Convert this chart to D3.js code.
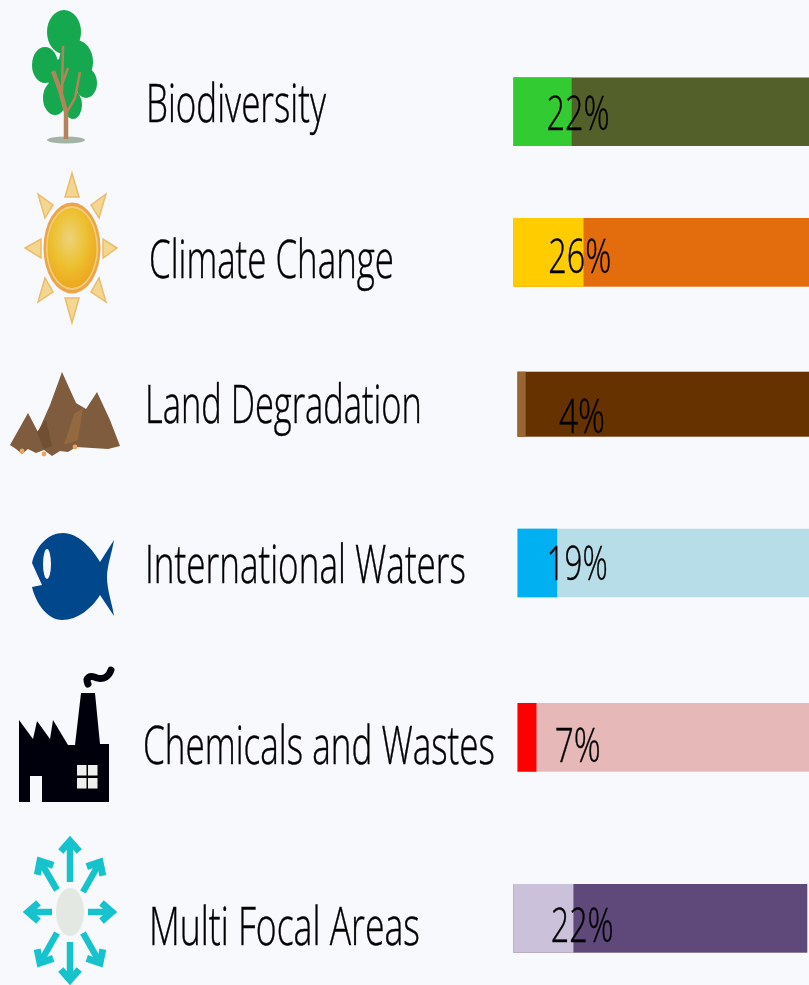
<!DOCTYPE html>
<html>
<head>
<meta charset="utf-8">
<title>Focal areas</title>
<script src="https://cdnjs.cloudflare.com/ajax/libs/d3/7.8.5/d3.min.js"></script>
<style>
  html, body { margin: 0; padding: 0; background: #f8f9fd; overflow: hidden; }
  svg { display: block; }
  text { font-family: "Open Sans", sans-serif; font-weight: 300; fill: #000; stroke: #000; stroke-width: 0.45; }
</style>
</head>
<body>
<svg id="chart" width="809" height="985"></svg>
<script>
// values
var categories = ['Biodiversity', 'Climate Change', 'Land Degradation', 'International Waters', 'Chemicals and Wastes', 'Multi Focal Areas'];
var percent_labels = ['22%', '26%', '4%', '19%', '7%', '22%'];
// drawn length of the coloured part, as a share of its track (not the same as the printed label)
var filled = [19.7, 23.7, 2.8, 13.6, 6.5, 20.4];

var fill_colors = ['#33cc33', '#ffcc00', '#996633', '#00b0f0', '#ff0000', '#ccc1da'];
var track_colors = ['#536029', '#e36c09', '#663300', '#b7dde8', '#e6b8b7', '#5f497a'];

// layout, rows are not evenly spaced in the original
var bar_left = [513.5, 513.5, 517.5, 517.5, 517.5, 513.5];
var bar_right = [809, 809, 809, 809, 809, 807.3];
var bar_top = [77.5, 218, 371.7, 528.7, 703, 884];
var bar_bottom = [146, 286.7, 436.7, 597.3, 771.7, 952.7];
var name_x = [146, 149, 145, 145, 143, 149];
var name_w = [180, 245, 277, 321, 352, 271];
var name_y = [122, 278, 422.7, 582.7, 764.3, 945];
var pct_x = [546.5, 548.3, 559, 546.7, 554.7, 550.7];
var pct_w = [63, 63, 46, 61, 46, 63];
var pct_y = [130, 273.3, 433, 580, 761.7, 942.3];

var svg = d3.select('#chart');

var defs = svg.append('defs');
defs.append('filter')
    .attr('id', 'soft')
    .attr('x', '-5%').attr('y', '-5%').attr('width', '110%').attr('height', '110%')
  .append('feGaussianBlur')
    .attr('stdDeviation', 0.7);
defs.append('filter')
    .attr('id', 'soft-text')
    .attr('x', '-5%').attr('y', '-5%').attr('width', '110%').attr('height', '110%')
  .append('feGaussianBlur')
    .attr('stdDeviation', 0.4);

var sun_grad = defs.append('radialGradient')
    .attr('id', 'sun-grad')
    .attr('cx', '45%').attr('cy', '38%').attr('r', '65%');
sun_grad.append('stop').attr('offset', '0%').attr('stop-color', '#eed27a');
sun_grad.append('stop').attr('offset', '55%').attr('stop-color', '#ecc02e');
sun_grad.append('stop').attr('offset', '100%').attr('stop-color', '#eda41e');

var root = svg.append('g').attr('filter', 'url(#soft)');
var text_layer = svg.append('g').attr('filter', 'url(#soft-text)');

root.append('rect')
    .attr('x', -10)
    .attr('y', -10)
    .attr('width', 829)
    .attr('height', 1005)
    .attr('fill', '#f8f9fd');

var y_top = d3.scaleOrdinal(categories, bar_top);
var y_bottom = d3.scaleOrdinal(categories, bar_bottom);

var rows = root.selectAll('g.row')
    .data(categories)
    .enter()
    .append('g')
    .attr('class', 'row');

// track
rows.append('rect')
    .attr('x', (d, i) => bar_left[i])
    .attr('y', d => y_top(d))
    .attr('width', (d, i) => (i == 5 ? bar_right[i] : bar_right[i] + 8) - bar_left[i])
    .attr('height', d => y_bottom(d) - y_top(d))
    .attr('fill', (d, i) => track_colors[i]);

// coloured part
rows.append('rect')
    .attr('x', (d, i) => bar_left[i])
    .attr('y', d => y_top(d))
    .attr('width', (d, i) => {
      var x = d3.scaleLinear().domain([0, 100]).range([bar_left[i], bar_right[i]]);
      return x(filled[i]) - x(0);
    })
    .attr('height', d => y_bottom(d) - y_top(d))
    .attr('fill', (d, i) => fill_colors[i]);

// text is squeezed sideways like the stretched original
function squeeze(sel, xs, ys, widths)
{
  sel.each(function(d, i) {
    var natural = this.getComputedTextLength();
    d3.select(this)
      .attr('transform', 'translate(' + xs[i] + ',' + ys[i] + ') scale(' + (widths[i] / natural) + ',1)');
  });
}

text_layer.selectAll('text.name')
    .data(categories)
    .enter()
    .append('text')
    .attr('class', 'name')
    .text(d => d)
    .attr('font-size', 54)
    .call(squeeze, name_x, name_y, name_w);

text_layer.selectAll('text.pct')
    .data(percent_labels)
    .enter()
    .append('text')
    .attr('class', 'pct')
    .text(d => d)
    .attr('font-size', 48)
    .call(squeeze, pct_x, pct_y, pct_w);

// icons
function polygon(g, points, fill)
{
  return g.append('path')
          .attr('d', d3.line()(points) + 'Z')
          .attr('fill', fill);
}

function draw_tree(g)
{
  var blobs = [[64, 32, 17, 22], [76, 62, 17, 22], [45, 65, 13, 18], [86, 83, 11, 15],
               [55, 98, 12, 17], [73, 105, 9, 14], [64, 78, 16, 20]];
  blobs.forEach(b => {
    g.append('ellipse')
     .attr('cx', b[0]).attr('cy', b[1]).attr('rx', b[2]).attr('ry', b[3])
     .attr('fill', '#17a84f');
  });
  g.append('ellipse')
   .attr('cx', 66).attr('cy', 140).attr('rx', 19).attr('ry', 3.5)
   .attr('fill', '#a3b3a6');

  var branches = [[[66, 139], [66, 112], [60, 90], [53, 71]],
                  [[67, 112], [75, 98], [80, 72]],
                  [[62, 92], [63, 46]],
                  [[62, 84], [68, 68]]];
  branches.forEach((b, i) => {
    g.append('path')
     .attr('d', d3.line()(b))
     .attr('fill', 'none')
     .attr('stroke', '#b5835a')
     .attr('stroke-width', i == 0 ? 4.5 : 2.5)
     .attr('stroke-linejoin', 'round');
  });
}

function draw_sun(g)
{
  var rays = [[[72, 173], [65, 197], [79, 197]], [[72, 323], [65, 298], [79, 298]],
              [[25, 248], [41, 239], [41, 258]], [[117, 248], [103, 239], [103, 258]],
              [[38, 194], [53, 205], [45, 218]], [[106, 194], [91, 205], [99, 218]],
              [[38, 302], [45, 278], [53, 292]], [[106, 302], [99, 278], [91, 292]]];
  rays.forEach(r => {
    polygon(g, r, '#f3d68f').attr('stroke', '#ebbc6c').attr('stroke-width', 1.5);
  });
  g.append('ellipse')
   .attr('cx', 72).attr('cy', 248).attr('rx', 28.5).attr('ry', 45.5)
   .attr('fill', '#eaa648');
  g.append('ellipse')
   .attr('cx', 72).attr('cy', 248).attr('rx', 26).attr('ry', 42)
   .attr('fill', '#f3cd7e');
  g.append('ellipse')
   .attr('cx', 72).attr('cy', 248).attr('rx', 24.5).attr('ry', 40)
   .attr('fill', 'url(#sun-grad)');
}

function draw_mountains(g)
{
  polygon(g, [[10, 445], [28, 413], [38, 432], [50, 405], [62, 372], [76, 403], [86, 409], [97, 392], [110, 420],
              [120, 446], [108, 449], [92, 448], [76, 447], [68, 452], [60, 451], [52, 456], [44, 450],
              [36, 453], [28, 449], [22, 454], [16, 449]], '#7f5c3c');
  polygon(g, [[64, 445], [74, 414], [83, 408], [78, 440]], '#94693f');
  polygon(g, [[37, 432], [46, 420], [52, 446], [44, 449]], '#6f5033');
  [[22, 451], [44, 454], [75, 447]].forEach(p => {
    g.append('circle').attr('cx', p[0]).attr('cy', p[1]).attr('r', 2.4).attr('fill', '#e9a360');
  });
}

function draw_fish(g)
{
  g.append('path')
   .attr('d', 'M63,533 C78,533 92,548 100,562 L114,540 C112,553 107,565 107,577 C107,590 112,603 114,616 '
            + 'L100,595 C92,608 78,620 62,620 C48,620 36,604 32,587 L42,585 L32,563 C36,546 48,533 63,533 Z')
   .attr('fill', '#03468c');
  g.append('ellipse')
   .attr('cx', 47).attr('cy', 564).attr('rx', 4).attr('ry', 15)
   .attr('fill', '#f8f9fd');
}

function draw_factory(g)
{
  polygon(g, [[19, 720], [33, 739], [37, 721], [50, 739], [53, 720], [68, 745], [75, 745], [81, 693], [95, 693],
              [100, 744], [109, 744], [109, 802], [42, 802], [42, 776], [30, 776], [30, 802], [19, 802]], '#050508');
  [[77, 765], [88, 765], [77, 778], [88, 778]].forEach(p => {
    g.append('rect')
     .attr('x', p[0]).attr('y', p[1]).attr('width', 9.5).attr('height', 10.5)
     .attr('fill', '#eef0ee');
  });
  g.append('path')
   .attr('d', 'M88,684 C85,677 90,675 97,678 C104,680 109,676 111,670')
   .attr('fill', 'none')
   .attr('stroke', '#050508')
   .attr('stroke-width', 7)
   .attr('stroke-linecap', 'round');
}

function draw_arrows(g)
{
  var arrows = [[70, 882, 70, 841], [70, 942, 70, 980], [52, 912, 28, 912], [88, 912, 112, 912],
                [57, 890, 40, 861], [83, 892, 100, 862], [57, 933, 40, 963], [83, 933, 100, 963]];
  arrows.forEach(a => {
    var angle = Math.atan2(a[3] - a[1], a[2] - a[0]);
    var head = d => [a[2] - 14 * Math.cos(angle + d), a[3] - 14 * Math.sin(angle + d)];
    var color = '#19c3cc';
    g.append('path')
     .attr('d', d3.line()([[a[0], a[1]], [a[2], a[3]]]))
     .attr('stroke', color)
     .attr('stroke-width', 6.5);
    g.append('path')
     .attr('d', d3.line()([head(0.72), [a[2], a[3]], head(-0.72)]))
     .attr('fill', 'none')
     .attr('stroke', color)
     .attr('stroke-width', 7);
  });
  g.append('ellipse')
   .attr('cx', 70).attr('cy', 912).attr('rx', 14).attr('ry', 24)
   .attr('fill', '#e4e8e2');
}

var icons = root.append('g').attr('class', 'icons');
[draw_tree, draw_sun, draw_mountains, draw_fish, draw_factory, draw_arrows].forEach(f => f(icons.append('g')));
</script>
</body>
</html>
